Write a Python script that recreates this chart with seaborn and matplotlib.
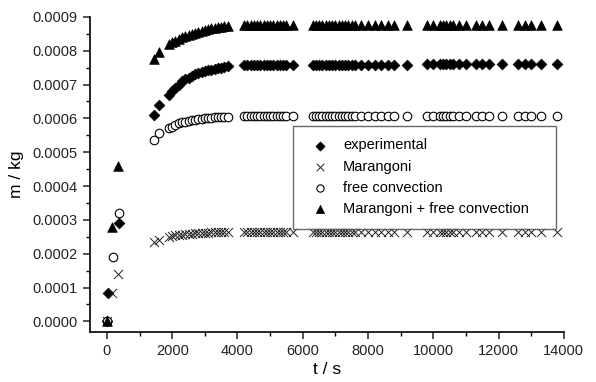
import numpy as np
import pandas as pd
import seaborn as sns
from matplotlib import pyplot as plt
from matplotlib.ticker import MultipleLocator, FormatStrFormatter

# time points (s) shared by the long-time part of every series
t_late = [1450, 1600, 1900, 2000, 2100, 2200, 2300, 2400, 2500, 2600, 2700,
          2800, 2900, 3000, 3100, 3200, 3300, 3400, 3500, 3600, 3700,
          4200, 4300, 4400, 4500, 4600, 4700, 4800, 4900, 5000, 5100, 5200,
          5300, 5400, 5500, 5700,
          6300, 6400, 6500, 6600, 6700, 6800, 6900, 7000, 7100, 7200, 7300,
          7400, 7500, 7600, 7800, 8000, 8200, 8400, 8600, 8800, 9200,
          9800, 10000, 10200, 10300, 10400, 10500, 10600, 10800, 11000,
          11300, 11500, 11700, 12100,
          12600, 12800, 13000, 13300, 13800]

# early points per series
t_exp_early = [0, 30, 360]
m_exp_early = [0.0, 0.000085, 0.00029]
t_mar_early = [0, 150, 330]
m_mar_early = [0.0, 0.000085, 0.00014]
t_fc_early = [0, 170, 370]
m_fc_early = [0.0, 0.00019, 0.00032]
t_both_early = [0, 150, 350]
m_both_early = [0.0, 0.00028, 0.00046]

# long-time values (kg), rising part then plateau
m_exp_late = [0.00061, 0.00064, 0.00067, 0.00068, 0.00069, 0.00070, 0.00071,
              0.000715, 0.00072, 0.000725, 0.00073, 0.000733, 0.000736,
              0.00074, 0.000742, 0.000744, 0.000746, 0.000748, 0.00075,
              0.000752, 0.000754] + [0.000757] * 15 + [0.000759] * 21 \
             + [0.00076] * 18
m_mar_late = [0.000235, 0.00024, 0.00025, 0.000252, 0.000254, 0.000255,
              0.000256, 0.000257, 0.000258, 0.000259, 0.00026, 0.00026,
              0.000261, 0.000262, 0.000262, 0.000263, 0.000263, 0.000264,
              0.000264, 0.000264, 0.000265] + [0.000265] * 54
m_fc_late = [0.000537, 0.000556, 0.00057, 0.000575, 0.00058, 0.000585,
             0.000588, 0.00059, 0.000592, 0.000594, 0.000596, 0.000598,
             0.000599, 0.0006, 0.000601, 0.000602, 0.000603, 0.000603,
             0.000604, 0.000604, 0.000605] + [0.000606] * 54
m_both_late = [0.000774, 0.000795, 0.00082, 0.000825, 0.00083, 0.000835,
               0.000839, 0.000843, 0.000847, 0.00085, 0.000853, 0.000856,
               0.000859, 0.000862, 0.000864, 0.000866, 0.000868, 0.00087,
               0.000871, 0.000872, 0.000873] + [0.000876] * 15 \
              + [0.000877] * 39

labels = ['experimental', 'Marangoni', 'free convection',
          'Marangoni + free convection']

series = {
    labels[0]: (t_exp_early + t_late, m_exp_early + m_exp_late),
    labels[1]: (t_mar_early + t_late, m_mar_early + m_mar_late),
    labels[2]: (t_fc_early + t_late, m_fc_early + m_fc_late),
    labels[3]: (t_both_early + t_late, m_both_early + m_both_late),
}

styles = {
    labels[0]: dict(marker='D', s=30, color='black', edgecolor='black', linewidth=0.5),
    labels[1]: dict(marker='x', s=42, color='#222222', linewidth=0.7),
    labels[2]: dict(marker='o', s=38, facecolor='white', edgecolor='black', linewidth=0.8),
    labels[3]: dict(marker='^', s=48, color='black', edgecolor='black', linewidth=0.5),
}

plt.rcParams['font.family'] = ['Liberation Sans', 'DejaVu Sans']

fig = plt.figure(figsize=(5.96, 3.82), dpi=100)
ax = fig.add_axes([0.151, 0.132, 0.795, 0.824])

for lab in labels:
    t, m = series[lab]
    df = pd.DataFrame({'t': t, 'm': m})
    sns.scatterplot(data=df, x='t', y='m', ax=ax, label=lab, **styles[lab])

ax.set_xlim(-520, 14000)
ax.set_ylim(-0.00003, 0.0009)
ax.xaxis.set_major_locator(MultipleLocator(2000))
ax.xaxis.set_minor_locator(MultipleLocator(1000))
ax.yaxis.set_major_locator(MultipleLocator(0.0001))
ax.yaxis.set_minor_locator(MultipleLocator(0.00005))
ax.yaxis.set_major_formatter(FormatStrFormatter('%.4f'))
ax.tick_params(which='major', length=5, width=1.1, labelsize=10.5,
               colors='#222222', pad=4)
ax.tick_params(which='minor', length=3, width=1.0)
for side in ['top', 'right']:
    ax.spines[side].set_visible(False)
for side in ['left', 'bottom']:
    ax.spines[side].set_linewidth(1.2)
ax.set_xlabel('t / s', fontsize=12.5, labelpad=3)
ax.set_ylabel('m / kg', fontsize=12.5, labelpad=6)

leg = ax.legend(loc='upper left', bbox_to_anchor=(0.428, 0.367, 0.555, 0.286),
                mode='expand', fontsize=10.5, frameon=True, fancybox=False,
                edgecolor='#444444', borderpad=0.85, labelspacing=0.5,
                handletextpad=0.6, markerscale=0.85, borderaxespad=0)
leg.get_frame().set_linewidth(1.0)

fig.savefig('out.png', dpi=100)
